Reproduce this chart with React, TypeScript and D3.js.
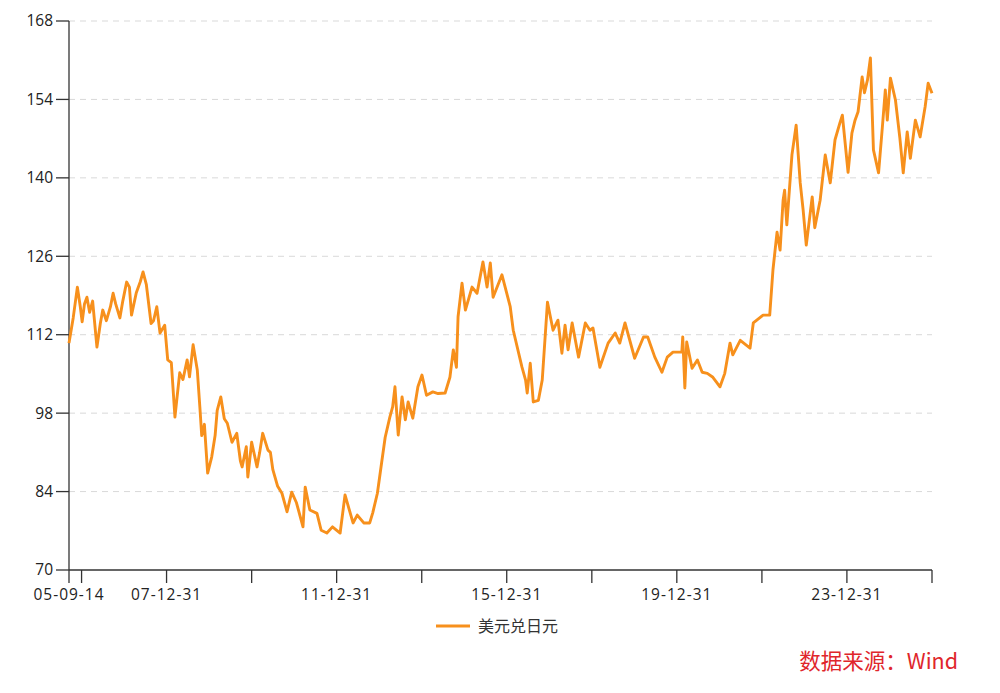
import React from "react";
import * as d3 from "d3";

const dates: string[] = [
  "2005-09-14","2005-10-20","2005-11-25","2005-12-20","2006-01-05","2006-01-25","2006-02-15","2006-03-10","2006-04-05","2006-05-12",
  "2006-06-10","2006-07-01","2006-08-01","2006-09-05","2006-09-28","2006-10-20","2006-11-25","2006-12-20","2007-01-22","2007-02-15",
  "2007-03-05","2007-04-15","2007-05-20","2007-06-12","2007-07-10","2007-08-20","2007-09-10","2007-10-08","2007-11-05","2007-12-15",
  "2008-01-10","2008-02-10","2008-03-12","2008-03-31","2008-04-22","2008-05-20","2008-06-25","2008-07-15","2008-08-15","2008-09-20",
  "2008-10-12","2008-10-28","2008-11-20","2008-12-18","2009-01-22","2009-02-20","2009-03-10","2009-04-10","2009-05-10","2009-06-05",
  "2009-07-15","2009-08-25","2009-09-25","2009-10-10","2009-11-15","2009-11-28","2009-12-31","2010-02-15","2010-03-10","2010-04-05",
  "2010-05-20","2010-06-10","2010-07-01","2010-08-10","2010-09-17","2010-10-31","2010-12-10","2011-01-20","2011-03-17","2011-04-05",
  "2011-05-15","2011-07-15","2011-08-20","2011-10-08","2011-11-25","2012-01-30","2012-03-12","2012-05-20","2012-06-25","2012-08-20",
  "2012-10-10","2012-11-05","2012-12-15","2013-01-20","2013-02-20","2013-04-01","2013-04-25","2013-05-15","2013-06-12","2013-07-15",
  "2013-08-12","2013-09-05","2013-10-15","2013-11-28","2014-01-02","2014-02-10","2014-04-05","2014-05-20","2014-07-20","2014-08-30",
  "2014-09-28","2014-10-25","2014-11-08","2014-12-12","2015-01-10","2015-03-08","2015-04-20","2015-06-10","2015-07-15","2015-08-12",
  "2015-09-05","2015-11-20","2016-01-30","2016-02-25","2016-05-10","2016-06-10","2016-06-24","2016-07-20","2016-08-15","2016-09-28",
  "2016-10-31","2016-12-15","2017-02-01","2017-03-15","2017-04-18","2017-05-15","2017-06-10","2017-07-15","2017-09-08","2017-11-05",
  "2017-12-15","2018-01-10","2018-03-10","2018-05-20","2018-07-20","2018-08-28","2018-10-12","2019-01-03","2019-03-20","2019-04-25",
  "2019-06-25","2019-08-25","2019-10-10","2019-11-28","2020-02-12","2020-02-20","2020-03-09","2020-03-25","2020-05-10","2020-06-25",
  "2020-08-05","2020-09-18","2020-11-05","2021-01-05","2021-02-15","2021-04-01","2021-04-25","2021-06-28","2021-09-20","2021-10-18",
  "2022-01-10","2022-03-08","2022-04-05","2022-05-10","2022-06-05","2022-07-01","2022-07-14","2022-08-02","2022-09-15","2022-10-21",
  "2022-11-25","2022-12-20","2023-01-16","2023-03-08","2023-03-30","2023-05-15","2023-06-28","2023-08-10","2023-09-20","2023-11-01",
  "2023-11-22","2024-01-10","2024-02-12","2024-03-10","2024-04-05","2024-05-10","2024-05-30","2024-06-25","2024-07-20","2024-08-15",
  "2024-09-28","2024-10-30","2024-11-25","2024-12-12","2025-01-08","2025-02-20","2025-03-30","2025-04-28","2025-06-01","2025-06-28",
  "2025-08-10","2025-09-20","2025-11-02","2025-11-28","2025-12-31"
];

const usdJpy: number[] = [
  110.5,115.0,120.5,117.0,114.3,117.5,118.7,116.0,118.0,109.8,
  114.0,116.4,114.5,117.0,119.4,117.5,115.0,118.0,121.4,120.5,
  115.5,119.5,121.5,123.2,121.0,114.0,114.5,117.0,112.3,113.7,
  107.5,107.0,97.3,101.0,105.2,104.0,107.5,104.5,110.2,105.7,
  99.1,94.0,96.0,87.3,90.2,94.0,98.5,100.9,97.0,96.2,
  92.8,94.4,89.5,88.4,92.0,86.6,92.8,88.4,91.0,94.4,
  91.4,91.0,87.9,85.0,83.7,80.4,83.9,82.0,77.7,84.8,
  80.7,80.1,77.1,76.6,77.7,76.6,83.4,78.4,79.8,78.4,
  78.4,80.2,83.7,89.1,93.7,97.3,99.1,102.7,94.1,100.9,
  96.8,100.0,97.1,102.7,104.8,101.2,101.8,101.5,101.6,104.4,
  109.3,106.2,115.2,121.2,116.4,120.5,119.4,125.0,120.5,124.8,
  118.7,122.7,117.0,112.8,106.2,103.9,101.6,106.9,100.0,100.3,
  103.9,117.8,112.8,114.6,108.7,113.7,109.3,114.1,108.0,114.1,
  112.8,113.2,106.2,110.5,112.3,110.5,114.1,107.8,111.6,111.6,
  108.0,105.3,108.0,108.9,108.9,111.6,102.5,110.7,106.0,107.5,
  105.3,105.1,104.4,102.7,105.1,110.5,108.4,111.0,109.6,114.1,
  115.5,115.5,123.6,130.3,127.1,136.0,137.8,131.6,144.1,149.4,
  139.1,134.3,128.0,136.6,131.1,136.0,144.1,139.1,146.8,149.8,
  151.2,141.0,148.0,150.3,151.8,158.0,155.2,157.5,161.4,145.0,
  140.9,148.9,155.7,150.3,157.8,153.9,147.1,140.9,148.2,143.5,
  150.3,147.3,152.7,156.9,155.1
];

const yTicks: number[] = [70, 84, 98, 112, 126, 140, 154, 168];
const xTickDates: string[] = [
  "2005-09-14","2005-12-31","2007-12-31","2009-12-31","2011-12-31","2013-12-31",
  "2015-12-31","2017-12-31","2019-12-31","2021-12-31","2023-12-31","2025-12-31"
];
const xLabelDates: string[] = ["2005-09-14","2007-12-31","2011-12-31","2015-12-31","2019-12-31","2023-12-31"];
const xLabels: string[] = ["05-09-14","07-12-31","11-12-31","15-12-31","19-12-31","23-12-31"];
const seriesName = "美元兑日元";
const sourceText = "数据来源：Wind";

const parse = d3.timeParse("%Y-%m-%d");

export default function App() {
  const W = 1000, H = 693;
  const left = 69, right = 932, top = 21, bottom = 570;
  const x = d3.scaleTime()
    .domain([parse("2005-09-14") as Date, parse("2025-12-31") as Date])
    .range([left, right]);
  const y = d3.scaleLinear().domain([70, 168]).range([bottom, top]);
  const data = dates.map((d, i) => ({ date: parse(d) as Date, v: usdJpy[i] }));
  const line = d3.line<{ date: Date; v: number }>()
    .x(d => x(d.date))
    .y(d => y(d.v))
    .curve(d3.curveLinear);
  const color = "#F7901C";
  const axisColor = "#333";
  const font = "'Open Sans', 'Noto Sans', sans-serif";

  return (
    <svg width={W} height={H} style={{ position: "absolute", left: 0, top: 0, background: "#fff" }}>
      {yTicks.filter(t => t !== 70).map(t => (
        <line key={"g" + t} x1={left} x2={right} y1={y(t)} y2={y(t)}
          stroke="#d9d9d9" strokeDasharray="6,5" strokeWidth={1} />
      ))}
      <line x1={left} x2={left} y1={top} y2={bottom} stroke={axisColor} strokeWidth={1.3} />
      {yTicks.map(t => (
        <g key={"y" + t}>
          <line x1={left - 13} x2={left} y1={y(t)} y2={y(t)} stroke={axisColor} strokeWidth={1.3} />
          <text x={53} y={y(t)} dy="0.35em" textAnchor="end" fontSize={15.5} fontFamily={font} fill="#222">{t}</text>
        </g>
      ))}
      <line x1={left} x2={right} y1={bottom} y2={bottom} stroke={axisColor} strokeWidth={1.3} />
      {xTickDates.map(d => (
        <line key={"xt" + d} x1={x(parse(d) as Date)} x2={x(parse(d) as Date)} y1={bottom} y2={bottom + 13}
          stroke={axisColor} strokeWidth={1.3} />
      ))}
      {xLabelDates.map((d, i) => (
        <text key={"xl" + d} x={x(parse(d) as Date)} y={600} textAnchor="middle" fontSize={15.5}
          fontFamily={font} fill="#222" letterSpacing={1}>{xLabels[i]}</text>
      ))}
      <path d={line(data) || ""} fill="none" stroke={color} strokeWidth={2.9} strokeLinejoin="round" />
      <line x1={436} x2={470} y1={626} y2={626} stroke={color} strokeWidth={3} />
      <text x={478} y={632} fontSize={16} fontFamily="'Noto Sans CJK SC', sans-serif" fill="#333">{seriesName}</text>
      <text x={958} y={669} textAnchor="end" fontSize={21.5} fontFamily="'Noto Sans CJK SC', sans-serif" fill="#E0262B">{sourceText}</text>
    </svg>
  );
}
